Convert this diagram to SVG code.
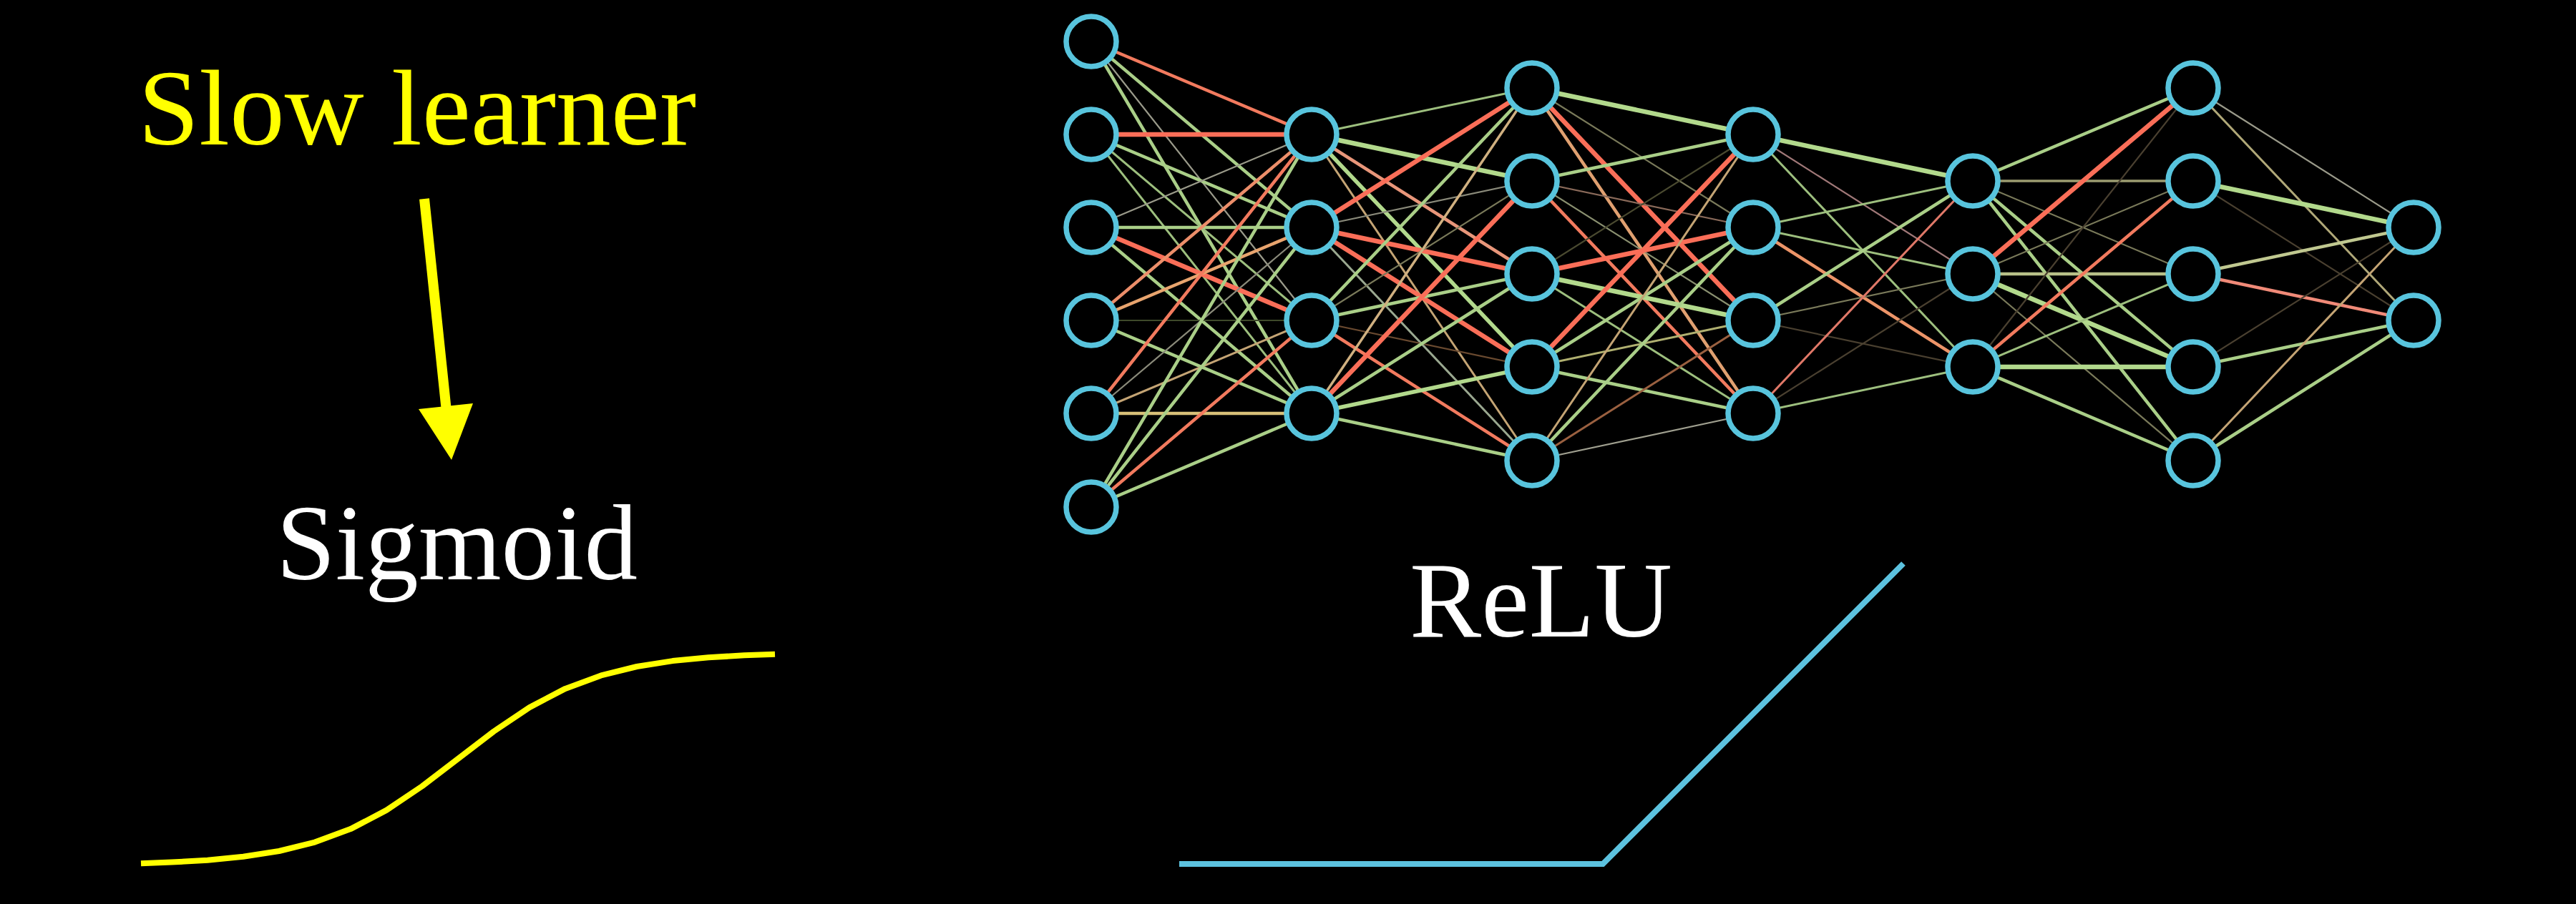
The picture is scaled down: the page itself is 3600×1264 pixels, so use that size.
<svg xmlns="http://www.w3.org/2000/svg" width="3600" height="1264" viewBox="0 0 3600 1264">
<style>
.e{fill:none;stroke-linecap:round}
.g3{stroke:#B2D98C;stroke-width:6.5}
.g2{stroke:#AACF88;stroke-width:4.5}
.g1{stroke:#9DBF7E;stroke-width:3}
.r3{stroke:#FA6E58;stroke-width:6.5}
.r2{stroke:#F27A5E;stroke-width:4.5}
.r1{stroke:#C87658;stroke-width:3}
.o2{stroke:#E8A46E;stroke-width:4.5}
.o1{stroke:#C4A474;stroke-width:3}
.f{stroke:#7A7A5A;stroke-width:2.2}
.node{fill:#000;stroke:#58C4DD;stroke-width:7.5}
.t{font-family:"Liberation Serif","DejaVu Serif",serif;font-size:150px}
</style>
<rect width="3600" height="1264" fill="#000"/>
<g id="connectors">
<!-- gap 1 -->
<line class="e r2" x1="1525" y1="58" x2="1833" y2="188"/>
<line class="e g2" x1="1525" y1="58" x2="1833" y2="318"/>
<line class="e f" x1="1525" y1="58" x2="1833" y2="448" style="stroke:#9A9A8A"/>
<line class="e g2" x1="1525" y1="58" x2="1833" y2="578"/>
<line class="e r3" x1="1525" y1="188" x2="1833" y2="188"/>
<line class="e g2" x1="1525" y1="188" x2="1833" y2="318"/>
<line class="e g1" x1="1525" y1="188" x2="1833" y2="448"/>
<line class="e g1" x1="1525" y1="188" x2="1833" y2="578"/>
<line class="e f" x1="1525" y1="318" x2="1833" y2="188" style="stroke:#9A9A8A"/>
<line class="e g2" x1="1525" y1="318" x2="1833" y2="318"/>
<line class="e r3" x1="1525" y1="318" x2="1833" y2="448"/>
<line class="e g2" x1="1525" y1="318" x2="1833" y2="578"/>
<line class="e o2" x1="1525" y1="448" x2="1833" y2="188" style="stroke:#EC8E6A"/>
<line class="e o2" x1="1525" y1="448" x2="1833" y2="318"/>
<line class="e f" x1="1525" y1="448" x2="1833" y2="448" style="stroke:#3E4A2A"/>
<line class="e g2" x1="1525" y1="448" x2="1833" y2="578"/>
<line class="e r2" x1="1525" y1="578" x2="1833" y2="188"/>
<line class="e f" x1="1525" y1="578" x2="1833" y2="318" style="stroke:#8A8A7A"/>
<line class="e o1" x1="1525" y1="578" x2="1833" y2="448"/>
<line class="e o2" x1="1525" y1="578" x2="1833" y2="578" style="stroke:#D8C078"/>
<line class="e g2" x1="1525" y1="709" x2="1833" y2="188"/>
<line class="e g2" x1="1525" y1="709" x2="1833" y2="318"/>
<line class="e r2" x1="1525" y1="709" x2="1833" y2="448"/>
<line class="e g2" x1="1525" y1="709" x2="1833" y2="578"/>
<!-- gap 2 -->
<line class="e g1" x1="1833" y1="188" x2="2141" y2="123"/>
<line class="e g3" x1="1833" y1="188" x2="2141" y2="253"/>
<line class="e o2" x1="1833" y1="188" x2="2141" y2="383" style="stroke:#E8967A"/>
<line class="e g3" x1="1833" y1="188" x2="2141" y2="513" style="stroke-width:5.5"/>
<line class="e o1" x1="1833" y1="188" x2="2141" y2="644"/>
<line class="e r3" x1="1833" y1="318" x2="2141" y2="123"/>
<line class="e f" x1="1833" y1="318" x2="2141" y2="253" style="stroke:#8A8A7A"/>
<line class="e r3" x1="1833" y1="318" x2="2141" y2="383"/>
<line class="e r3" x1="1833" y1="318" x2="2141" y2="513"/>
<line class="e g1" x1="1833" y1="318" x2="2141" y2="644" style="stroke:#9AA890"/>
<line class="e g2" x1="1833" y1="448" x2="2141" y2="123"/>
<line class="e f" x1="1833" y1="448" x2="2141" y2="253"/>
<line class="e g2" x1="1833" y1="448" x2="2141" y2="383"/>
<line class="e f" x1="1833" y1="448" x2="2141" y2="513" style="stroke:#6A4A30"/>
<line class="e r2" x1="1833" y1="448" x2="2141" y2="644"/>
<line class="e o1" x1="1833" y1="578" x2="2141" y2="123" style="stroke:#D0B080;stroke-width:3.5"/>
<line class="e r3" x1="1833" y1="578" x2="2141" y2="253"/>
<line class="e g2" x1="1833" y1="578" x2="2141" y2="383"/>
<line class="e g3" x1="1833" y1="578" x2="2141" y2="513" style="stroke-width:5.5"/>
<line class="e g2" x1="1833" y1="578" x2="2141" y2="644"/>
<!-- gap 3 -->
<line class="e g3" x1="2141" y1="123" x2="2450" y2="188"/>
<line class="e f" x1="2141" y1="123" x2="2450" y2="318"/>
<line class="e r3" x1="2141" y1="123" x2="2450" y2="448"/>
<line class="e o2" x1="2141" y1="123" x2="2450" y2="578" style="stroke:#E0A070"/>
<line class="e g2" x1="2141" y1="253" x2="2450" y2="188"/>
<line class="e f" x1="2141" y1="253" x2="2450" y2="318" style="stroke:#8A6A5A"/>
<line class="e f" x1="2141" y1="253" x2="2450" y2="448" style="stroke:#8A9070"/>
<line class="e r2" x1="2141" y1="253" x2="2450" y2="578"/>
<line class="e f" x1="2141" y1="383" x2="2450" y2="188" style="stroke:#4A4A30"/>
<line class="e r3" x1="2141" y1="383" x2="2450" y2="318"/>
<line class="e g3" x1="2141" y1="383" x2="2450" y2="448"/>
<line class="e g1" x1="2141" y1="383" x2="2450" y2="578"/>
<line class="e r3" x1="2141" y1="513" x2="2450" y2="188"/>
<line class="e g2" x1="2141" y1="513" x2="2450" y2="318"/>
<line class="e g1" x1="2141" y1="513" x2="2450" y2="448" style="stroke:#B0B070"/>
<line class="e g2" x1="2141" y1="513" x2="2450" y2="578"/>
<line class="e o1" x1="2141" y1="644" x2="2450" y2="188"/>
<line class="e g2" x1="2141" y1="644" x2="2450" y2="318"/>
<line class="e r1" x1="2141" y1="644" x2="2450" y2="448" style="stroke:#9A6040"/>
<line class="e f" x1="2141" y1="644" x2="2450" y2="578" style="stroke:#A0A090"/>
<!-- gap 4 -->
<line class="e g3" x1="2450" y1="188" x2="2757" y2="253"/>
<line class="e f" x1="2450" y1="188" x2="2757" y2="383" style="stroke:#A07878"/>
<line class="e g1" x1="2450" y1="188" x2="2757" y2="513"/>
<line class="e g1" x1="2450" y1="318" x2="2757" y2="253"/>
<line class="e g1" x1="2450" y1="318" x2="2757" y2="383"/>
<line class="e o2" x1="2450" y1="318" x2="2757" y2="513" style="stroke:#EC9468"/>
<line class="e g2" x1="2450" y1="448" x2="2757" y2="253"/>
<line class="e f" x1="2450" y1="448" x2="2757" y2="383"/>
<line class="e f" x1="2450" y1="448" x2="2757" y2="513" style="stroke:#4A4030"/>
<line class="e r1" x1="2450" y1="578" x2="2757" y2="253" style="stroke:#E07868"/>
<line class="e f" x1="2450" y1="578" x2="2757" y2="383" style="stroke:#4A4030"/>
<line class="e g1" x1="2450" y1="578" x2="2757" y2="513"/>
<!-- gap 5 -->
<line class="e g2" x1="2757" y1="253" x2="3065" y2="123"/>
<line class="e o1" x1="2757" y1="253" x2="3065" y2="253" style="stroke:#9C9C70;stroke-width:3.5"/>
<line class="e f" x1="2757" y1="253" x2="3065" y2="383"/>
<line class="e g2" x1="2757" y1="253" x2="3065" y2="513"/>
<line class="e g2" x1="2757" y1="253" x2="3065" y2="644"/>
<line class="e r3" x1="2757" y1="383" x2="3065" y2="123"/>
<line class="e f" x1="2757" y1="383" x2="3065" y2="253"/>
<line class="e g2" x1="2757" y1="383" x2="3065" y2="383" style="stroke:#B8C088"/>
<line class="e g3" x1="2757" y1="383" x2="3065" y2="513"/>
<line class="e f" x1="2757" y1="383" x2="3065" y2="644"/>
<line class="e f" x1="2757" y1="513" x2="3065" y2="123" style="stroke:#4A4030"/>
<line class="e r2" x1="2757" y1="513" x2="3065" y2="253"/>
<line class="e g1" x1="2757" y1="513" x2="3065" y2="383"/>
<line class="e g3" x1="2757" y1="513" x2="3065" y2="513"/>
<line class="e g2" x1="2757" y1="513" x2="3065" y2="644"/>
<!-- gap 6 -->
<line class="e f" x1="3065" y1="123" x2="3373" y2="318" style="stroke:#9A9A8A"/>
<line class="e g1" x1="3065" y1="123" x2="3373" y2="448" style="stroke:#B0A878"/>
<line class="e g3" x1="3065" y1="253" x2="3373" y2="318"/>
<line class="e f" x1="3065" y1="253" x2="3373" y2="448" style="stroke:#4A4030"/>
<line class="e g2" x1="3065" y1="383" x2="3373" y2="318" style="stroke:#C0C890"/>
<line class="e r2" x1="3065" y1="383" x2="3373" y2="448" style="stroke:#F08A78"/>
<line class="e f" x1="3065" y1="513" x2="3373" y2="318" style="stroke:#4A4030"/>
<line class="e g2" x1="3065" y1="513" x2="3373" y2="448"/>
<line class="e o1" x1="3065" y1="644" x2="3373" y2="318"/>
<line class="e g2" x1="3065" y1="644" x2="3373" y2="448"/>
</g>
<g id="layer1">
<circle id="n1_1" class="node" cx="1525" cy="58" r="35"/>
<circle id="n1_2" class="node" cx="1525" cy="188" r="35"/>
<circle id="n1_3" class="node" cx="1525" cy="318" r="35"/>
<circle id="n1_4" class="node" cx="1525" cy="448" r="35"/>
<circle id="n1_5" class="node" cx="1525" cy="578" r="35"/>
<circle id="n1_6" class="node" cx="1525" cy="709" r="35"/>
</g>
<g id="layer2">
<circle id="n2_1" class="node" cx="1833" cy="188" r="35"/>
<circle id="n2_2" class="node" cx="1833" cy="318" r="35"/>
<circle id="n2_3" class="node" cx="1833" cy="448" r="35"/>
<circle id="n2_4" class="node" cx="1833" cy="578" r="35"/>
</g>
<g id="layer3">
<circle id="n3_1" class="node" cx="2141" cy="123" r="35"/>
<circle id="n3_2" class="node" cx="2141" cy="253" r="35"/>
<circle id="n3_3" class="node" cx="2141" cy="383" r="35"/>
<circle id="n3_4" class="node" cx="2141" cy="513" r="35"/>
<circle id="n3_5" class="node" cx="2141" cy="644" r="35"/>
</g>
<g id="layer4">
<circle id="n4_1" class="node" cx="2450" cy="188" r="35"/>
<circle id="n4_2" class="node" cx="2450" cy="318" r="35"/>
<circle id="n4_3" class="node" cx="2450" cy="448" r="35"/>
<circle id="n4_4" class="node" cx="2450" cy="578" r="35"/>
</g>
<g id="layer5">
<circle id="n5_1" class="node" cx="2757" cy="253" r="35"/>
<circle id="n5_2" class="node" cx="2757" cy="383" r="35"/>
<circle id="n5_3" class="node" cx="2757" cy="513" r="35"/>
</g>
<g id="layer6">
<circle id="n6_1" class="node" cx="3065" cy="123" r="35"/>
<circle id="n6_2" class="node" cx="3065" cy="253" r="35"/>
<circle id="n6_3" class="node" cx="3065" cy="383" r="35"/>
<circle id="n6_4" class="node" cx="3065" cy="513" r="35"/>
<circle id="n6_5" class="node" cx="3065" cy="644" r="35"/>
</g>
<g id="layer7">
<circle id="n7_1" class="node" cx="3373" cy="318" r="35"/>
<circle id="n7_2" class="node" cx="3373" cy="448" r="35"/>
</g>
<g id="slow-learner">
<text class="t" x="193" y="202" fill="#FFFF00" textLength="780" lengthAdjust="spacingAndGlyphs">Slow learner</text>
<line x1="593" y1="278" x2="624" y2="575" stroke="#FFFF00" stroke-width="14"/>
<polygon points="585,572 661,564 631,643" fill="#FFFF00"/>
</g>
<g id="sigmoid">
<text class="t" x="386" y="810" fill="#FFFFFF" textLength="505" lengthAdjust="spacingAndGlyphs">Sigmoid</text>
<polyline fill="none" stroke="#FFFF00" stroke-width="8" stroke-linejoin="round" points="197,1207.2 240,1205.6 290,1202.7 340,1197.8 390,1190 440,1177.6 490,1159.1 540,1132.9 590,1099.3 640,1061 690,1022.7 740,989.1 790,962.9 840,944.4 890,932 940,924.1 990,919.3 1040,916.3 1083,914.8"/>
</g>
<g id="relu">
<text class="t" x="1970" y="890" fill="#FFFFFF" textLength="367" lengthAdjust="spacingAndGlyphs">ReLU</text>
<polyline fill="none" stroke="#5CC2DF" stroke-width="8" points="1648,1208 2240,1208 2660,788"/>
</g>
</svg>
